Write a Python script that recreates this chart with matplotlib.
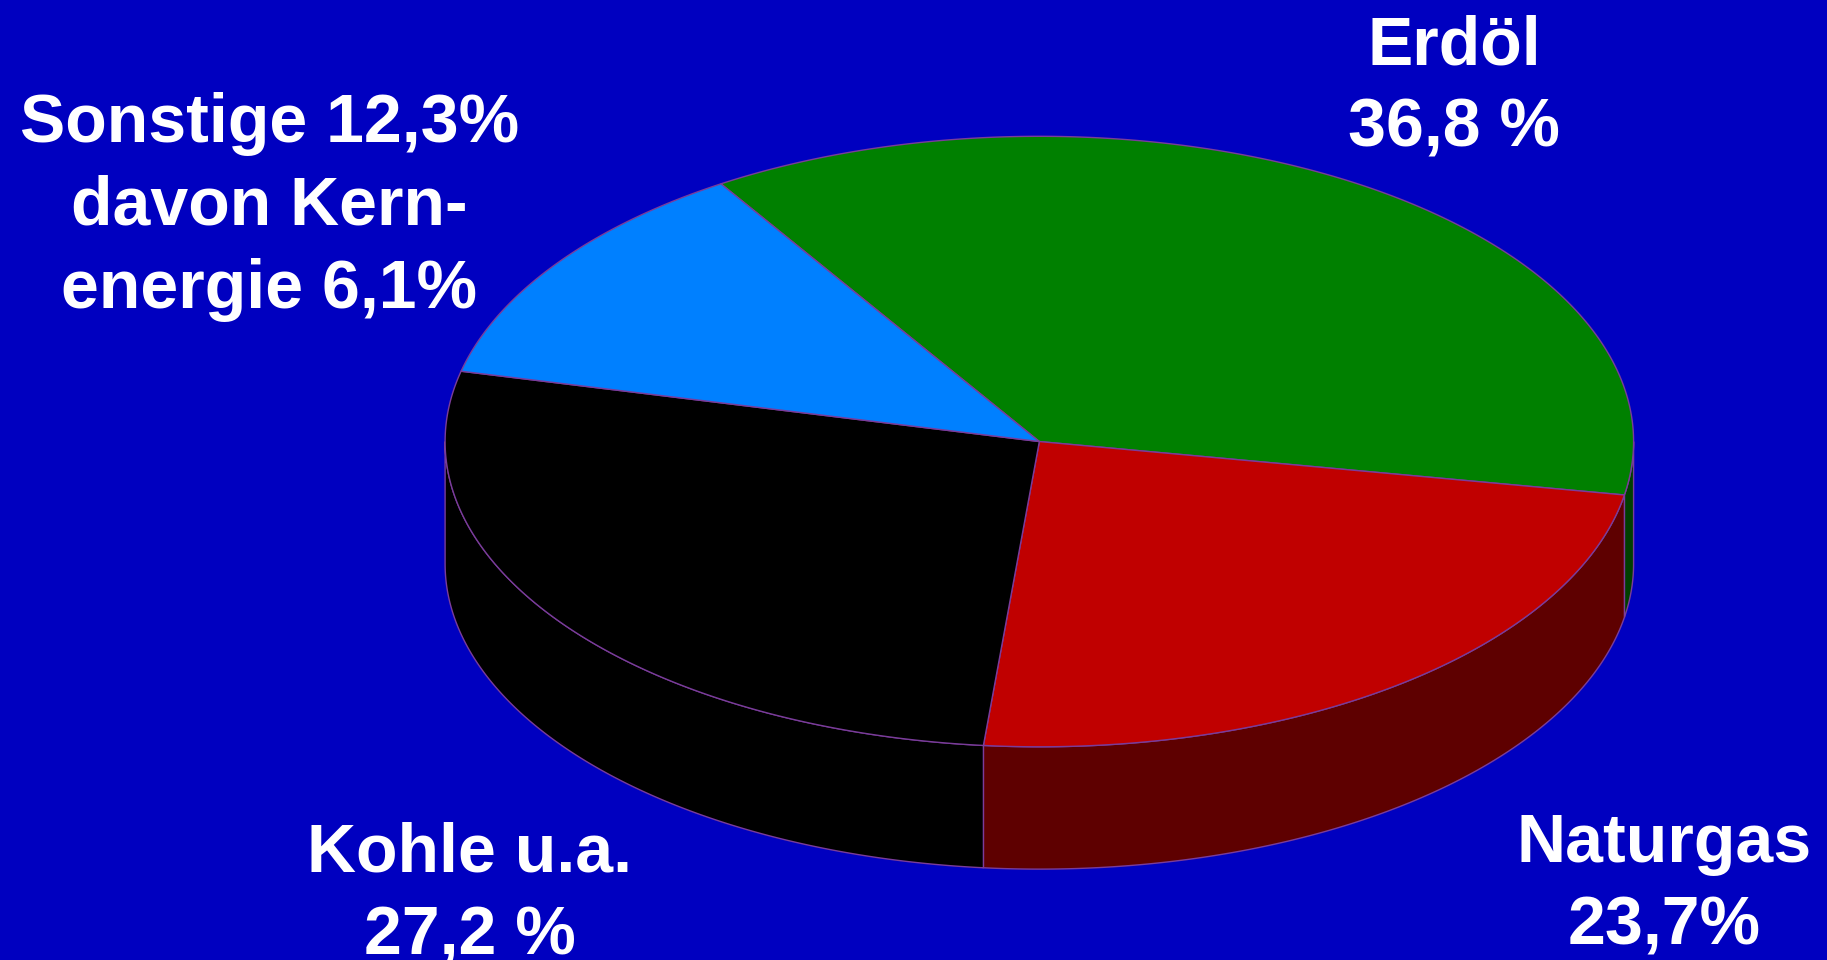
import numpy as np
import matplotlib
matplotlib.use("Agg")
import matplotlib.pyplot as plt
from matplotlib.patches import Polygon

# Data
categories = ["Erdöl", "Naturgas", "Kohle u.a.", "Sonstige"]
values = [36.8, 23.7, 27.2, 12.3]
top_colors = ["#008000", "#C00000", "#000000", "#0080FF"]
side_colors = ["#004000", "#5E0000", "#000000", "#0050A0"]
label_lines = [
    ["Erdöl", "36,8 %"],
    ["Naturgas", "23,7%"],
    ["Kohle u.a.", "27,2 %"],
    ["Sonstige 12,3%", "davon Kern-", "energie 6,1%"],
]

W, H = 1568, 824
BG = "#0000C0"
EDGE = "#7A3C9A"

fig = plt.figure(figsize=(18.27, 9.60), dpi=100, facecolor=BG)
ax = fig.add_axes([0, 0, 1, 1])
ax.set_facecolor(BG)
ax.set_xlim(0, W)
ax.set_ylim(H, 0)
ax.axis("off")

cx, cy, rx, ry, depth = 892, 379, 510, 262, 105
start = 122.4

def pt(t, dy=0.0):
    r = np.radians(t)
    return cx + rx * np.cos(r), cy - ry * np.sin(r) + dy

total = sum(values)
angles = []
a = start
for v in values:
    b = a - v / total * 360.0
    angles.append((a, b))
    a = b

# sides (visible where sin(t) < 0)
for (a, b), col in zip(angles, side_colors):
    for shift in (0, 360, -360):
        lo, hi = b + shift, a + shift
        s0, s1 = max(lo, -180), min(hi, 0)
        if s1 > s0:
            ts = np.linspace(s1, s0, 200)
            top = [pt(t) for t in ts]
            bot = [pt(t, depth) for t in ts[::-1]]
            ax.add_patch(Polygon(top + bot, closed=True, facecolor=col,
                                 edgecolor=EDGE, linewidth=1.0, zorder=1))

# top faces
for (a, b), col in zip(angles, top_colors):
    ts = np.linspace(a, b, 300)
    pts = [(cx, cy)] + [pt(t) for t in ts]
    ax.add_patch(Polygon(pts, closed=True, facecolor=col, edgecolor=EDGE,
                         linewidth=1.0, zorder=2))

# labels (line centers x, first baseline y)
label_pos = [(1248, 55), (1428, 740), (403, 748), (231, 122)]
line_step = 71
for lines, (lx, ly) in zip(label_lines, label_pos):
    for i, s in enumerate(lines):
        ax.text(lx, ly + i * line_step, s, ha="center", va="baseline",
                color="white", fontsize=49, fontweight="bold",
                family=["Liberation Sans", "DejaVu Sans"], zorder=5)

fig.savefig("out.png", dpi=100, facecolor=BG)
